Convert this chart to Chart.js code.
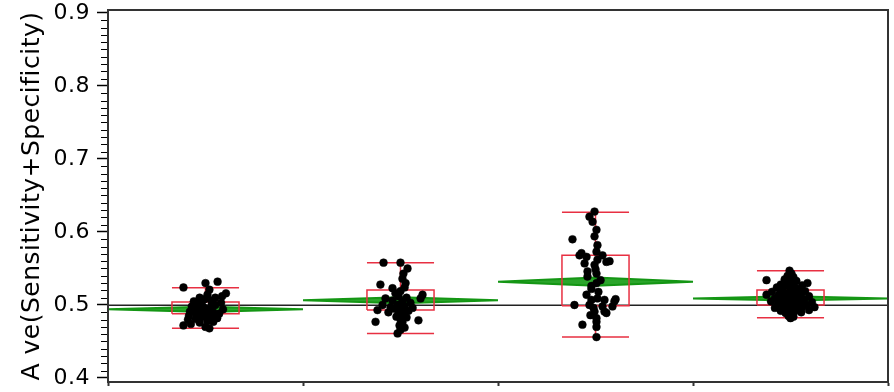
<!DOCTYPE html>
<html>
<head>
<meta charset="utf-8">
<script src="https://cdn.jsdelivr.net/npm/chart.js@4.4.1/dist/chart.umd.min.js"></script>
<style>
html,body{margin:0;padding:0;background:#fff;}
#wrap{width:894px;height:392px;}
</style>
</head>
<body>
<div id="wrap"><canvas id="c" width="894" height="392"></canvas></div>
<script>
// ---- data ----
const categories = ['Group 1', 'Group 2', 'Group 3', 'Group 4'];
const yTitle = 'A ve(Sensitivity+Specificity)';
const yMajorTicks = [0.4, 0.5, 0.6, 0.7, 0.8, 0.9];
const grandMean = 0.4995;

const groupMeans = [0.494, 0.5065, 0.532, 0.509];
const groupCIHalf = [0.0035, 0.004, 0.0055, 0.003];

const boxMin = [0.468, 0.461, 0.456, 0.4826];
const boxQ1  = [0.488, 0.493, 0.499, 0.500];
const boxQ3  = [0.504, 0.5205, 0.568, 0.5205];
const boxMax = [0.5236, 0.558, 0.627, 0.547];

// [jitter (fraction of group width), value]
const g1Points = [
[-0.113,0.524],[0.000,0.530],[0.062,0.532],[0.105,0.516],[0.085,0.512],[0.020,0.521],
[0.010,0.514],[-0.030,0.510],[-0.060,0.505],[-0.020,0.503],[0.030,0.506],[0.050,0.500],
[-0.070,0.498],[-0.010,0.497],[0.015,0.494],[-0.040,0.492],[0.040,0.490],[0.070,0.488],
[-0.080,0.491],[0.000,0.487],[-0.020,0.484],[0.025,0.483],[0.060,0.482],[-0.050,0.481],
[-0.090,0.480],[0.010,0.478],[-0.030,0.476],[0.040,0.477],[-0.075,0.474],[-0.113,0.472],
[0.000,0.470],[0.020,0.468],[0.090,0.494],[-0.050,0.488],[0.030,0.499],[-0.005,0.508],
[0.050,0.510],[-0.040,0.500],[0.080,0.503],[-0.085,0.485],[0.005,0.490],[-0.015,0.493],
[0.025,0.487],[0.010,0.480],[-0.060,0.494]
];
const g2Points = [
[-0.087,0.558],[0.000,0.558],[0.036,0.550],[0.015,0.543],[0.010,0.536],[0.026,0.530],
[-0.103,0.528],[-0.041,0.523],[0.021,0.524],[0.000,0.519],[-0.026,0.516],[0.113,0.514],
[0.103,0.509],[-0.077,0.509],[-0.010,0.512],[0.031,0.510],[-0.041,0.506],[0.010,0.505],
[-0.092,0.500],[0.051,0.503],[-0.015,0.500],[0.021,0.498],[-0.118,0.493],[-0.031,0.495],
[0.005,0.493],[0.041,0.492],[-0.010,0.489],[0.015,0.487],[-0.062,0.490],[-0.021,0.484],
[0.031,0.483],[0.000,0.480],[-0.128,0.477],[0.092,0.479],[0.010,0.476],[-0.005,0.472],
[0.021,0.469],[0.000,0.466],[-0.015,0.461],[-0.051,0.497],[0.062,0.496]
];
const g3Points = [
[-0.005,0.628],[-0.031,0.621],[-0.015,0.614],[0.005,0.603],[-0.005,0.594],[-0.118,0.590],
[0.010,0.582],[0.005,0.573],[-0.072,0.571],[-0.046,0.566],[-0.082,0.568],[0.036,0.568],
[0.056,0.559],[0.072,0.560],[-0.056,0.557],[-0.005,0.555],[-0.041,0.546],[0.005,0.543],
[-0.041,0.539],[0.005,0.530],[-0.021,0.522],[0.015,0.518],[-0.046,0.514],[-0.021,0.507],
[0.010,0.509],[0.046,0.507],[0.097,0.505],[0.103,0.508],[-0.108,0.500],[-0.031,0.500],
[0.036,0.498],[0.087,0.498],[-0.010,0.496],[0.046,0.491],[-0.005,0.491],[0.056,0.489],
[-0.026,0.486],[0.005,0.482],[0.005,0.477],[-0.067,0.473],[0.005,0.470],[0.005,0.456],
[-0.021,0.526],[0.026,0.534],[0.000,0.549],[0.010,0.562]
];
const g4Points = [
[-0.005,0.547],[0.005,0.543],[-0.015,0.540],[0.015,0.538],[-0.123,0.534],[0.087,0.530],
[-0.030,0.535],[0.030,0.533],[0.000,0.531],[-0.050,0.528],[0.060,0.527],[-0.020,0.527],
[0.020,0.525],[-0.070,0.524],[0.045,0.522],[0.000,0.522],[-0.040,0.520],[0.075,0.519],
[-0.095,0.518],[0.025,0.518],[-0.015,0.516],[0.055,0.515],[-0.123,0.514],[-0.060,0.514],
[0.010,0.513],[0.095,0.512],[-0.030,0.511],[0.040,0.510],[-0.080,0.509],[0.000,0.508],
[0.070,0.507],[-0.045,0.506],[0.025,0.505],[-0.100,0.505],[0.110,0.504],[-0.015,0.503],
[0.050,0.502],[-0.065,0.501],[0.085,0.500],[0.010,0.500],[-0.035,0.498],[0.123,0.497],
[0.060,0.497],[-0.080,0.496],[0.030,0.495],[-0.010,0.494],[0.095,0.493],[-0.050,0.492],
[0.020,0.491],[0.055,0.490],[-0.025,0.489],[0.005,0.487],[-0.010,0.485],[0.015,0.484],
[0.000,0.482]
];
const groupPoints = [g1Points, g2Points, g3Points, g4Points];

// ---- build datasets ----
const BOX_HALF = 0.172;
const pointData = [];
groupPoints.forEach((pts, g) => pts.forEach(p => pointData.push({x: g + 0.5 + p[0], y: p[1]})));

const boxData = [];
categories.forEach((c, g) => {
  const cx = g + 0.5, l = cx - BOX_HALF, r = cx + BOX_HALF;
  const gap = {x: cx, y: null};
  boxData.push({x:l,y:boxQ1[g]},{x:r,y:boxQ1[g]},{x:r,y:boxQ3[g]},{x:l,y:boxQ3[g]},{x:l,y:boxQ1[g]}, gap);
  boxData.push({x:l,y:boxMax[g]},{x:r,y:boxMax[g]}, gap);
  boxData.push({x:l,y:boxMin[g]},{x:r,y:boxMin[g]}, gap);
  boxData.push({x:cx,y:boxQ3[g]},{x:cx,y:boxMax[g]}, gap);
  boxData.push({x:cx,y:boxQ1[g]},{x:cx,y:boxMin[g]}, gap);
});

const diamondSets = categories.map((c, g) => {
  const m = groupMeans[g], h = groupCIHalf[g];
  return {
    type: 'line', label: c + ' mean',
    data: [{x:g,y:m},{x:g+0.5,y:m+h},{x:g+1,y:m},{x:g+0.5,y:m-h},{x:g,y:m}],
    borderColor: 'rgb(20,150,20)', backgroundColor: 'rgba(20,155,20,0.9)',
    borderWidth: 2, pointRadius: 0, fill: 'shape', tension: 0, order: 2
  };
});

const datasets = [
  {type:'scatter', label:'points', data: pointData, backgroundColor:'#000', borderColor:'#000', borderWidth:0.5,
   pointRadius:3.9, pointHoverRadius:3.9, order:0},
  {type:'line', label:'box', data: boxData, borderColor:'rgb(232,48,66)', borderWidth:1.5,
   pointRadius:0, spanGaps:false, fill:false, tension:0, order:1},
  ...diamondSets,
  {type:'line', label:'grand mean', data:[{x:0,y:grandMean},{x:categories.length,y:grandMean}],
   borderColor:'#222', borderWidth:1.5, pointRadius:0, fill:false, order:4}
];

const frameAndMinor = {
  id: 'frameAndMinor',
  beforeDraw(chart) { try { chart.ctx.letterSpacing = '0.5px'; } catch(e) {} },
  afterDraw(chart) {
    const ctx = chart.ctx, a = chart.chartArea, ys = chart.scales.y;
    ctx.save();
    ctx.strokeStyle = '#000'; ctx.lineWidth = 1;
    for (let i = 0; i < yMajorTicks.length - 1; i++) {
      const step = (yMajorTicks[i+1] - yMajorTicks[i]) / 10;
      for (let j = 1; j < 10; j++) {
        const py = Math.round(ys.getPixelForValue(yMajorTicks[i] + j*step)) + 0.5;
        ctx.beginPath(); ctx.moveTo(a.left - 7, py); ctx.lineTo(a.left, py); ctx.stroke();
      }
    }
    ctx.strokeStyle = '#333'; ctx.lineWidth = 2;
    ctx.strokeRect(a.left, a.top, a.right - a.left, a.bottom - a.top);
    ctx.restore();
  }
};

new Chart(document.getElementById('c'), {
  type: 'scatter',
  data: { datasets },
  plugins: [frameAndMinor],
  options: {
    responsive: false, animation: false, devicePixelRatio: 1,
    layout: { padding: { left: 0, top: 10, right: 6, bottom: 0 } },
    plugins: { legend: { display: false }, tooltip: { enabled: false } },
    scales: {
      x: {
        type: 'linear', min: 0, max: categories.length,
        afterBuildTicks: s => { s.ticks = categories.map((c, i) => ({value: i})).concat([{value: categories.length}]); },
        afterFit: s => { s.height = 10; s.paddingLeft = 0; s.paddingRight = 0; },
        ticks: { display: false },
        grid: { drawOnChartArea: false, drawTicks: true, tickLength: 4, tickColor: '#333', tickWidth: 2 },
        border: { display: true, color: '#333', width: 2 }
      },
      y: {
        type: 'linear', min: 0.3945, max: 0.9041,
        afterBuildTicks: s => { s.ticks = yMajorTicks.map(v => ({value: v})); },
        afterFit: s => { s.width = 108; s.paddingTop = 0; s.paddingBottom = 0; },
        ticks: { color: '#000', padding: 7, font: { family: 'DejaVu Sans', size: 22 },
                 callback: v => v.toFixed(1) },
        grid: { drawOnChartArea: false, drawTicks: true, tickLength: 11, tickColor: '#000', tickWidth: 1.5 },
        border: { display: true, color: '#333', width: 2 },
        title: { display: true, text: yTitle, color: '#000',
                 font: { family: 'DejaVu Sans', size: 25 }, padding: { top: 17, bottom: 0 } }
      }
    }
  }
});
</script>
</body>
</html>
